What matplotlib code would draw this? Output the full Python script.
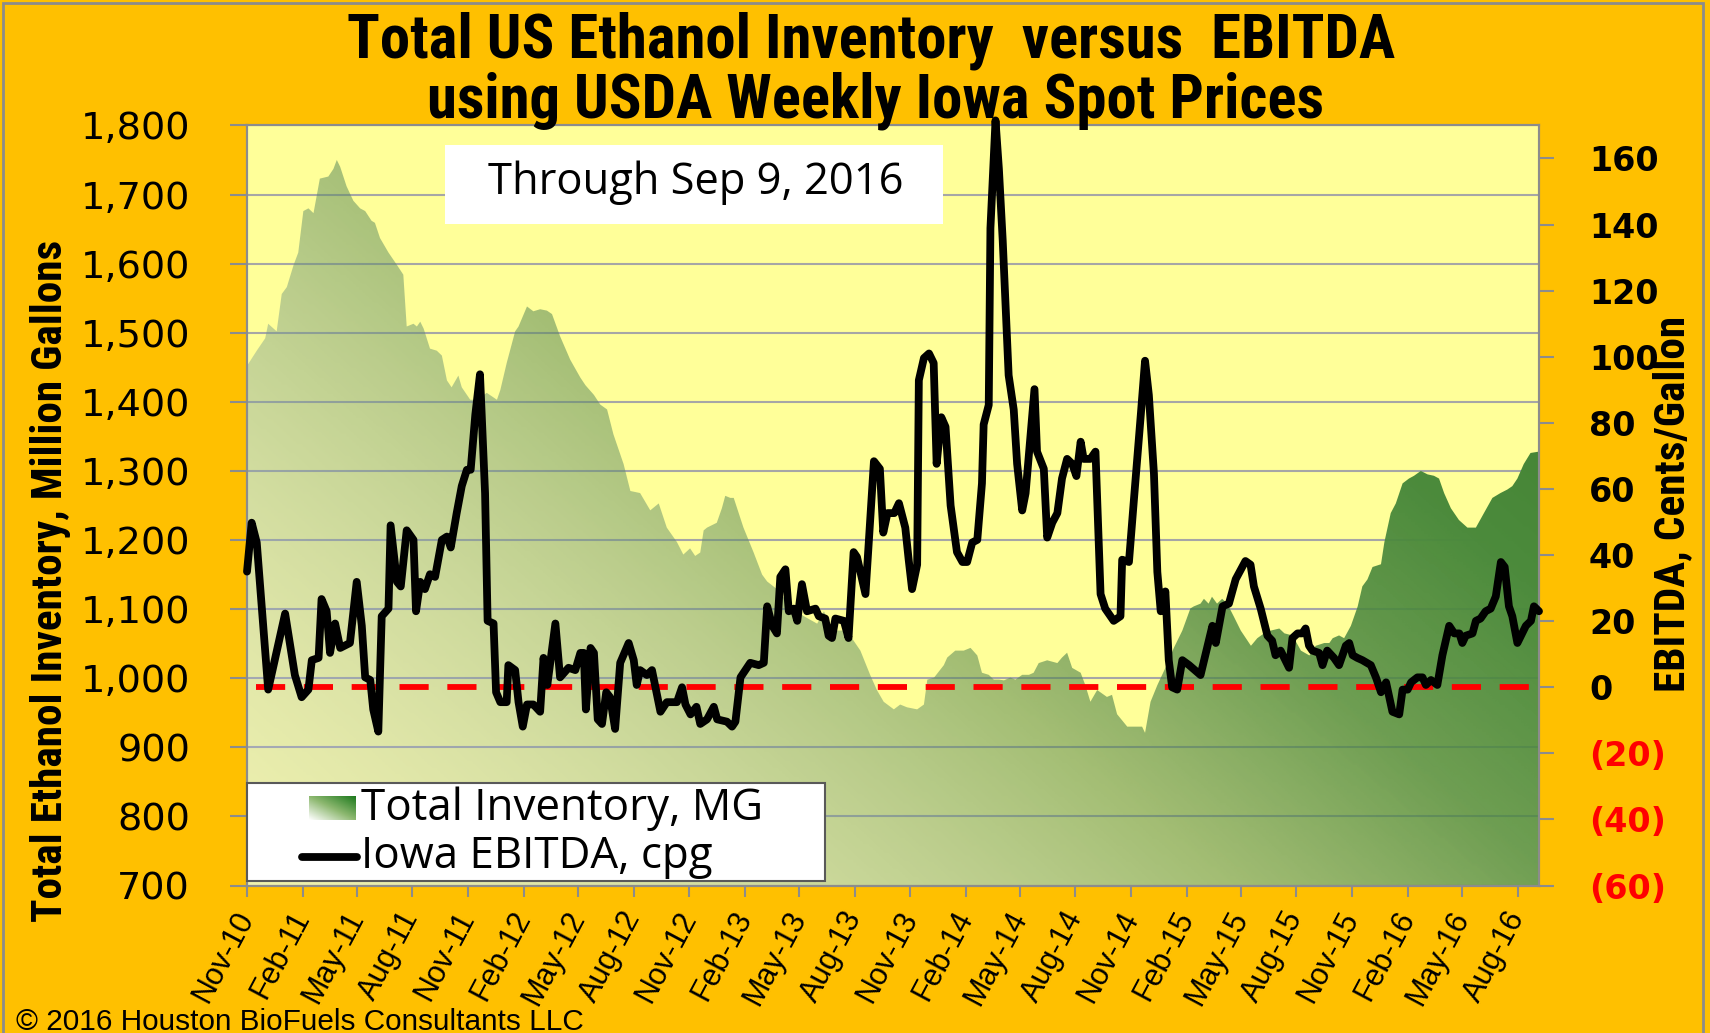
import numpy as np
import pandas as pd
import matplotlib
matplotlib.use("Agg")
import matplotlib.pyplot as plt
import matplotlib.dates as mdates
from matplotlib import font_manager as fm
from matplotlib.colors import LinearSegmentedColormap
from matplotlib.patches import Rectangle

start = pd.Timestamp("2010-11-05")
end = pd.Timestamp("2016-09-09")

# weeks counted from 5 Nov 2010
ebitda_week = [0, 1.1, 2.3, 5.0, 9.0, 11.3, 12.9, 14.5, 15.3, 16.9, 17.6, 18.8, 19.6, 20.8, 22.0, 24.3,
               25.9, 27.1, 27.9, 29.1, 29.8, 31.0, 31.8, 33.4, 33.9, 35.4, 36.3, 37.7, 39.3, 39.9, 40.9,
               42.0, 43.2, 44.4, 46.0, 47.2, 48.1, 49.5, 50.7, 51.9, 52.8, 53.9, 55.0, 56.2, 56.8, 58.2,
               58.8, 59.8, 61.3, 61.7, 63.3, 64.1, 65.1, 66.1, 67.6, 69.2, 70.0, 70.9, 72.8, 73.9, 75.9,
               77.5, 78.7, 79.5, 80.0, 81.1, 81.9, 82.8, 83.8, 84.8, 85.7, 86.9, 88.1, 90.1, 91.3, 92.0,
               92.8, 94.4, 95.6, 97.6, 99.1, 101.5, 102.7, 103.5, 104.7, 106.1, 107.0, 108.6, 110.2,
               111.0, 113.3, 114.5, 115.3, 116.5, 118.8, 120.8, 122.0, 122.8, 124.0, 125.1, 125.9,
               127.1, 127.9, 129.1, 129.9, 131.0, 132.2, 134.2, 135.0, 136.5, 137.3, 138.1, 138.9,
               140.9, 142.0, 143.2, 144.0, 146.0, 148.0, 149.4, 150.2, 151.2, 152.8, 153.9, 155.4,
               156.2, 157.0, 158.2, 158.6, 159.8, 161.0, 162.1, 162.8, 163.9, 164.9, 166.1, 167.6,
               168.9, 170.0, 171.2, 172.4, 173.5, 173.9, 175.1, 175.5, 176.7, 177.5, 178.4, 179.8,
               181.0, 181.8, 183.0, 183.8, 185.0, 185.9, 186.5, 188.1, 188.9, 190.1, 191.3, 192.4,
               193.6, 194.8, 195.8, 196.8, 197.5, 199.1, 200.3, 201.5, 202.6, 204.6, 206.2, 206.6,
               208.2, 209.4, 211.0, 212.0, 212.9, 214.1, 214.9, 215.7, 216.8, 217.6, 218.4, 219.6,
               220.8, 222.4, 225.1, 227.9, 228.7, 230.3, 231.8, 233.4, 235.7, 236.9, 237.7, 239.3,
               240.9, 242.0, 242.8, 244.0, 246.0, 246.8, 248.0, 249.1, 249.9, 250.7, 251.5, 253.1,
               253.9, 255.0, 256.6, 257.8, 259.4, 260.2, 261.0, 262.1, 263.3, 265.3, 266.5, 267.7,
               268.9, 270.4, 272.0, 272.8, 274.0, 274.8, 276.3, 277.5, 278.3, 279.5, 281.0, 282.2,
               283.8, 285.0, 286.2, 286.9, 287.7, 289.3, 290.1, 291.2, 292.4, 293.6, 294.8, 296.0,
               296.9, 297.9, 298.7, 299.9, 301.9, 303.1, 303.8, 305.0]
ebitda_cpg = [35, 49.8, 43.8, -0.7, 22.3, 3.7, -3.0, -0.7, 8.2, 8.9, 26.7, 23.0, 10.4, 19.3, 11.9, 13.4,
              31.9, 18.6, 3.0, 2.2, -6.7, -13.4, 21.5, 23.8, 49.0, 31.9, 30.5, 47.5, 44.6, 23.0, 31.9,
              29.7, 34.2, 33.4, 44.6, 45.6, 42.3, 52.7, 60.9, 65.8, 65.8, 82.5, 94.7, 58.7, 20.1, 19.3,
              -1.5, -4.5, -4.5, 6.7, 5.2, -4.5, -11.9, -5.2, -5.2, -7.4, 8.9, 0.7, 19.3, 3.0, 5.9,
              5.2, 10.4, 10.4, -6.7, 11.9, 10.4, -9.7, -11.1, -1.5, -3.0, -12.6, 7.4, 13.4, 8.2, 0.7,
              5.2, 3.7, 5.2, -7.4, -4.5, -4.5, 0, -5.2, -8.2, -5.9, -11.1, -9.7, -5.9,
              -9.7, -10.4, -11.9, -10.4, 3.0, 7.4, 6.7, 7.4, 24.5, 18.6, 16.3, 33.4,
              35.7, 23.0, 23.8, 20.1, 31.2, 23.0, 23.8, 21.5, 20.8, 15.6, 14.9, 20.8,
              20.1, 14.9, 40.9, 39.4, 28.2, 68.4, 66.1, 46.8, 52.7, 52.7, 55.7, 48.3,
              38.6, 29.7, 37.1, 92.9, 99.6, 101.0, 98.1, 67.6, 81.7, 78.8, 55.0, 40.9,
              37.9, 37.9, 43.8, 44.6, 61.7, 79.5, 85.4, 138.9, 171.5, 156.8, 135.2, 94.4,
              84.0, 67.6, 53.5, 58.7, 76.5, 90.2, 71.3, 66.1, 45.3, 49.8, 52.7, 63.2,
              69.1, 67.6, 63.9, 74.3, 69.1, 69.1, 71.3, 28.2, 23.8, 20.1, 21.5, 38.6,
              37.9, 57.2, 82.5, 98.8, 88.4, 64.6, 34.9, 23.0, 29.0, 8.2, 0, -0.7,
              8.2, 6.7, 3.7, 18.6, 13.4, 24.5, 25.3, 32.7, 38.2, 37.1, 30.5, 23.8,
              15.6, 14.1, 9.7, 11.1, 5.9, 14.9, 16.3, 16.3, 17.8, 12.6, 11.1, 10.4,
              6.7, 11.1, 8.9, 6.7, 12.6, 13.4, 9.7, 8.9, 8.2, 6.7, 3.0, -1.5,
              1.5, -7.4, -8.2, -0.7, -0.7, 1.5, 3.0, 3.0, 0.7, 2.2, 0.7, 9.7,
              18.6, 16.3, 16.3, 13.4, 15.6, 16.3, 20.1, 20.8, 23.0, 23.8, 27.5, 37.9,
              36.4, 24.5, 21.5, 13.4, 18.6, 20.1, 24.5, 23.0]

inv_week = [0, 2.3, 4.3, 5.0, 7.0, 8.2, 9.4, 11.0, 12.1, 13.3, 14.5, 15.7, 17.2, 19.2, 20.4, 21.2, 22.0,
            23.5, 25.1, 26.7, 27.9, 29.4, 30.2, 31.4, 33.4, 35.4, 36.9, 37.7, 39.3, 40.1, 40.9, 41.7,
            43.2, 44.8, 46.0, 47.2, 48.3, 49.9, 50.7, 52.7, 54.3, 56.6, 59.0, 59.8, 61.3, 63.3, 64.1,
            66.1, 67.6, 69.2, 70.8, 72.0, 73.9, 76.3, 78.7, 79.9, 81.9, 83.4, 85.0, 86.5, 88.9, 90.5,
            92.8, 95.2, 97.2, 99.1, 101.5, 103.0, 104.6, 105.8, 107.0, 107.8, 108.6, 110.9, 112.1,
            112.9, 114.1, 114.9, 117.2, 119.6, 121.6, 122.8, 125.1, 127.5, 129.1, 131.4, 134.6,
            136.2, 137.7, 139.3, 140.9, 142.8, 144.8, 147.1, 148.7, 150.3, 152.7, 154.2, 155.8,
            158.2, 159.8, 160.6, 162.2, 164.5, 165.3, 167.2, 169.2, 170.8, 172.4, 173.5, 175.1,
            176.3, 177.5, 178.7, 180.2, 181.4, 183.0, 184.6, 185.7, 186.9, 188.9, 191.3, 192.4,
            193.6, 194.8, 196.8, 197.9, 199.1, 200.7, 203.0, 204.2, 205.4, 207.8, 211.3, 212.0,
            213.3, 214.9, 216.8, 218.8, 220.8, 222.7, 223.5, 225.1, 225.9, 227.0, 227.8, 229.0,
            230.2, 231.4, 232.9, 234.6, 237.0, 238.5, 240.1, 241.7, 243.7, 244.9, 246.8, 248.8,
            250.8, 252.3, 254.3, 255.5, 256.3, 257.8, 259.0, 260.6, 262.2, 263.3, 264.5, 265.7,
            267.7, 268.5, 270.0, 271.2, 272.8, 274.3, 275.5, 277.1, 278.7, 280.2, 281.4, 282.6,
            284.2, 286.1, 288.1, 290.1, 292.0, 294.0, 295.9, 297.5, 298.7, 299.9, 301.4, 303.0,
            305.0]
inv_mg = [1452, 1474, 1492, 1513, 1502, 1556, 1566, 1598, 1616, 1676, 1680, 1673, 1723, 1726, 1737, 1750, 1740,
          1712, 1691, 1680, 1676, 1662, 1659, 1637, 1616, 1598, 1584, 1509, 1513, 1509, 1516, 1506,
          1477, 1474, 1467, 1431, 1421, 1438, 1421, 1403, 1403, 1413, 1403, 1417, 1456, 1502, 1509,
          1538, 1531, 1534, 1532, 1527, 1495, 1461, 1435, 1424, 1410, 1396, 1389, 1353, 1310, 1271,
          1268, 1243, 1253, 1218, 1197, 1179, 1188, 1177, 1182, 1214, 1218, 1225, 1246,
          1264, 1261, 1261, 1218, 1182, 1150, 1140, 1129, 1111, 1101, 1090, 1079,
          1097, 1076, 1069, 1069, 1058, 1040, 1005, 983, 966, 955, 962, 958,
          955, 962, 998, 1001, 1019, 1030, 1040, 1040, 1044, 1033, 1008, 1005,
          998, 998, 997, 1001, 998, 1005, 1005, 1008, 1022, 1026, 1022, 1030,
          1037, 1015, 1008, 990, 966, 983, 973, 976, 948, 930, 930, 921,
          966, 990, 1015, 1044, 1069, 1101, 1104, 1108, 1115, 1108, 1118, 1108,
          1115, 1108, 1090, 1069, 1047, 1058, 1065, 1069, 1072, 1065, 1062, 1040,
          1033, 1047, 1051, 1051, 1058, 1062, 1058, 1076, 1104, 1133, 1143, 1161,
          1165, 1197, 1239, 1253, 1282, 1289, 1293, 1300, 1295, 1293, 1289, 1268,
          1246, 1229, 1218, 1218, 1239, 1261, 1268, 1273, 1278, 1289, 1310, 1326,
          1328]

tick_labels = ["Nov-10", "Feb-11", "May-11", "Aug-11", "Nov-11", "Feb-12", "May-12", "Aug-12",
               "Nov-12", "Feb-13", "May-13", "Aug-13", "Nov-13", "Feb-14", "May-14", "Aug-14",
               "Nov-14", "Feb-15", "May-15", "Aug-15", "Nov-15", "Feb-16", "May-16", "Aug-16"]
left_ticks = [700, 800, 900, 1000, 1100, 1200, 1300, 1400, 1500, 1600, 1700, 1800]
right_ticks = [-60, -40, -20, 0, 20, 40, 60, 80, 100, 120, 140, 160]


def week_to_num(w):
    d = start + pd.to_timedelta(np.asarray(w) * 7, unit="D")
    return mdates.date2num(d.to_pydatetime())


def narrow_bold():
    # look for an installed narrow / condensed bold face, else plain bold sans
    prefs = ["Liberation Sans Narrow", "Roboto Condensed", "DejaVu Sans Condensed", "Noto Sans", "Open Sans"]
    best, best_rank = None, 99
    for f in fm.fontManager.ttflist:
        st = str(f.stretch)
        narrow = ("Narrow" in f.name or "Condensed" in f.name
                  or st in ("condensed", "semi-condensed", "extra-condensed"))
        w = f.weight
        if isinstance(w, str):
            w = {"bold": 700, "semibold": 600, "demibold": 600, "extra bold": 800}.get(w.lower(), 400)
        if not narrow or w < 600 or w > 800 or f.style != "normal" or "Mono" in f.name:
            continue
        rank = next((i for i, p in enumerate(prefs) if f.name.startswith(p)), 8)
        if "xtra" in st or "Extra" in f.name:
            rank += 10
        if rank < best_rank:
            best, best_rank = f, rank
    if best is None:
        return fm.FontProperties(family=["Liberation Sans", "DejaVu Sans"], weight="bold")
    return fm.FontProperties(fname=best.fname)


NARROW = narrow_bold()
BODY = ["Open Sans", "Lato", "DejaVu Sans"]
plt.rcParams["font.family"] = ["DejaVu Sans"]

fig = plt.figure(figsize=(17.1, 10.33), dpi=100, facecolor="#FFC000")
fig.patches.append(Rectangle((3 / 1710, -0.01), 1700 / 1710, 1.01 - 3 / 1033, transform=fig.transFigure,
                             fill=False, edgecolor="#8C8C8C", lw=2))

ax = fig.add_axes([247 / 1710, 1 - 885.6 / 1033, 1292 / 1710, 760.2 / 1033])
ax.set_facecolor("#FFFF99")
x0, x1 = mdates.date2num(start), mdates.date2num(end)

xi = week_to_num(inv_week)
poly = ax.fill_between(xi, inv_mg, 700, facecolor="none", edgecolor="none")

# gradient: pale/see-through at bottom left, dark green at top right
yellow = np.array([255, 255, 153])
stops_t = [0.0, 0.45, 0.6, 0.75, 1.0]
seen = np.array([[240, 242, 176], [162, 189, 115], [110, 158, 82], [76, 139, 60], [58, 122, 42]])
alphas = np.array([0.2, 0.55, 0.8, 1.0, 1.0])
rgb = np.clip((seen - (1 - alphas[:, None]) * yellow) / alphas[:, None] / 255, 0, 1)
rgba = np.column_stack([rgb, alphas])
cmap = LinearSegmentedColormap.from_list("inv", list(zip(stops_t, [tuple(c) for c in rgba])))
U, V = np.meshgrid(np.linspace(0, 1, 400), np.linspace(0, 1, 250))
grad = cmap((U + 0.7 * V) / 1.7)
im = ax.imshow(grad, extent=[x0, x1, 700, 1800], origin="lower", aspect="auto",
               interpolation="bilinear", zorder=1.5)
im.set_clip_path(poly.get_paths()[0], transform=ax.transData)

ax.set_xlim(x0, x1)
ax.set_ylim(700, 1800)
ax.set_axisbelow(True)
ax.yaxis.grid(True, color="#A6A6A6", lw=1.5)
ax.set_yticks(left_ticks)
ax.set_yticklabels([f"{v:,}" for v in left_ticks], fontsize=27.5)
ax.tick_params(axis="y", direction="out", length=12, width=1.5, color="#8C8C8C", pad=29)

tick_pos = [mdates.date2num(start + pd.DateOffset(months=3 * k)) for k in range(len(tick_labels))]
ax.set_xticks(tick_pos)
ax.set_xticklabels(tick_labels, rotation=62, ha="right", va="center", rotation_mode="anchor",
                   fontsize=22, family=["Liberation Sans", "DejaVu Sans"])
ax.tick_params(axis="x", direction="out", length=8, width=1.5, color="#8C8C8C", pad=12)
for s in ax.spines.values():
    s.set_color("#8C8C8C")
    s.set_linewidth(1.5)

ax2 = ax.twinx()
ax2.set_ylim(-60, 170)
ax2.axhline(0, xmin=0.007, color="#FF0000", lw=4.2, dashes=(5, 3.2), zorder=2)
ax2.plot(week_to_num(ebitda_week), ebitda_cpg, color="black", lw=5.6, solid_joinstyle="round",
         solid_capstyle="round", zorder=3, clip_on=False)
ax2.set_xlim(x0, x1)
ax2.set_yticks(right_ticks)
ax2.set_yticklabels([f"({-v})" if v < 0 else str(v) for v in right_ticks], fontsize=24, fontweight="bold")
for lab, v in zip(ax2.get_yticklabels(), right_ticks):
    lab.set_color("#FF0000" if v < 0 else "black")
ax2.tick_params(axis="y", direction="out", length=11, width=1.5, color="#8C8C8C", pad=25)
for s in ax2.spines.values():
    s.set_color("#8C8C8C")
    s.set_linewidth(1.5)


def axc(px, py):
    return (px - 247) / 1292, (885.6 - py) / 760.2


# "Through" box
bx, by = axc(445, 224)
ax2.add_patch(Rectangle((bx, by), 498 / 1292, 79 / 760.2, transform=ax2.transAxes,
                        facecolor="white", edgecolor="none", zorder=8))
tx, ty = axc(696, 183)
t_box = ax2.text(tx, ty, "Through Sep 9, 2016", transform=ax2.transAxes, ha="center", va="center",
                 fontsize=28, family=BODY, zorder=9)

# legend
lx, ly = axc(247, 881)
ax2.add_patch(Rectangle((lx, ly), 578 / 1292, 98 / 760.2, transform=ax2.transAxes,
                        facecolor="white", edgecolor="#595959", lw=1.5, zorder=4, clip_on=False))
sx, sy = axc(309, 820)
sw = ax2.inset_axes([sx, sy, 47 / 1292, 24 / 760.2], transform=ax2.transAxes)
su, sv = np.meshgrid(np.linspace(0, 1, 60), np.linspace(0, 1, 30))
sw_cmap = LinearSegmentedColormap.from_list("sw", ["#FFFFFF", "#8DB870", "#1E7A1E"])
sw.imshow(sw_cmap((su + sv) / 2), origin="lower", aspect="auto", extent=[0, 1, 0, 1])
sw.set_axis_off()
hx0, hy = axc(302, 857)
hx1, _ = axc(357, 857)
ax2.plot([hx0, hx1], [hy, hy], transform=ax2.transAxes, color="black", lw=5.6,
         solid_capstyle="round", zorder=6, clip_on=False)
t1x, t1y = axc(361, 809)
t_leg1 = ax2.text(t1x, t1y, "Total Inventory, MG", transform=ax2.transAxes, ha="left", va="center",
                  fontsize=27, family=BODY, zorder=6)
t_leg2 = ax2.text(t1x, hy, "Iowa EBITDA, cpg", transform=ax2.transAxes, ha="left", va="center",
                  fontsize=27, family=BODY, zorder=6)

# titles and axis labels
t_title1 = fig.text(871 / 1710, 1 - 41 / 1033, "Total US Ethanol Inventory  versus  EBITDA",
                    ha="center", va="center", fontproperties=NARROW, fontsize=36)
t_title2 = fig.text(875 / 1710, 1 - 101 / 1033, "using USDA Weekly Iowa Spot Prices",
                    ha="center", va="center", fontproperties=NARROW, fontsize=36)
t_left = fig.text(51 / 1710, 1 - 581 / 1033, "Total Ethanol Inventory, Million Gallons", rotation=90,
                  ha="center", va="center", fontproperties=NARROW, fontsize=30)
t_right = fig.text(1673 / 1710, 1 - 504 / 1033, "EBITDA, Cents/Gallon", rotation=90,
                   ha="center", va="center", fontproperties=NARROW, fontsize=30)
t_foot = fig.text(16 / 1710, 3 / 1033, "\u00a9 2016 Houston BioFuels Consultants LLC", ha="left",
                  va="baseline", fontsize=20, family=["Liberation Sans", "DejaVu Sans"])

# size texts so their lengths match the reference
fig.canvas.draw()
renderer = fig.canvas.get_renderer()


def fit(t, target, vertical=False):
    for _ in range(3):
        bb = t.get_window_extent(renderer)
        cur = bb.height if vertical else bb.width
        t.set_fontsize(t.get_fontsize() * target / cur)


fit(t_title1, 1047)
t_title2.set_fontsize(t_title1.get_fontsize())
fit(t_left, 682, vertical=True)
fit(t_right, 376, vertical=True)
fit(t_foot, 567)
fit(t_box, 415)
fit(t_leg1, 402)
t_leg2.set_fontsize(t_leg1.get_fontsize())

fig.savefig("out.png", dpi=100, facecolor=fig.get_facecolor())
